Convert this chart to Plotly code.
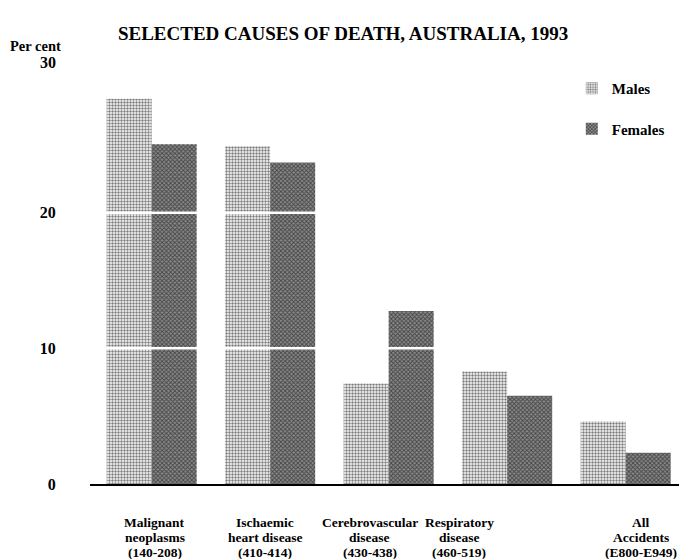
import plotly.graph_objects as go

label_lines = [
    ["Malignant", "neoplasms", "(140-208)"],
    ["Ischaemic", "heart disease", "(410-414)"],
    ["Cerebrovascular", "disease", "(430-438)"],
    ["Respiratory", "disease", "(460-519)"],
    ["All", "Accidents", "(E800-E949)"],
]
categories = ["<br>".join(l) for l in label_lines]
males = [28.4, 24.9, 7.4, 8.3, 4.6]
females = [25.05, 23.7, 12.75, 6.5, 2.3]
y_ticks = [0, 10, 20]
top_tick = 30

FONT = "Liberation Serif"
label_xshift = [3, -5, -19, -48, 15]

fig = go.Figure()
fig.add_trace(go.Bar(
    x=categories, y=males, name="Males", legendgroup="m",
    marker=dict(color="white", line=dict(width=0),
                pattern=dict(shape=".", fgcolor="black", bgcolor="white", size=3, solidity=0.5)),
))
fig.add_trace(go.Bar(
    x=categories, y=females, name="Females", legendgroup="f",
    marker=dict(color="#555", line=dict(width=0),
                pattern=dict(shape="x", fgcolor="black", bgcolor="#8a8a8a", size=3, solidity=0.5)),
))

for v in y_ticks[1:]:
    fig.add_shape(type="line", xref="paper", yref="y", x0=0, x1=1, y0=v, y1=v,
                  line=dict(color="white", width=2.5), layer="above")

for cat, lines, dx in zip(categories, label_lines, label_xshift):
    for i, line in enumerate(lines):
        fig.add_annotation(text=line, x=cat, xref="x", y=0, yref="paper", yanchor="middle",
                           yshift=-38 - 15 * i, xshift=dx, showarrow=False, borderpad=0,
                           font=dict(family=FONT, size=13.5, color="black", weight="bold"))

fig.add_annotation(text="Per cent", xref="paper", yref="y", x=-0.139, y=top_tick, yshift=31,
                   showarrow=False, xanchor="left", yanchor="middle",
                   font=dict(family=FONT, size=14.5, color="black", weight="bold"))
fig.add_annotation(text=str(top_tick), xref="paper", yref="y", x=-0.054, y=top_tick, yshift=15,
                   showarrow=False, xanchor="right", yanchor="middle",
                   font=dict(family=FONT, size=16, color="black", weight="bold"))

fig.update_layout(
    width=688, height=559,
    margin=dict(l=82.4, r=16.6, t=69, b=83, autoexpand=False),
    paper_bgcolor="white", plot_bgcolor="white",
    barmode="group", bargap=0.24, bargroupgap=0,
    title=dict(text="SELECTED CAUSES OF DEATH, AUSTRALIA, 1993", x=0.487, xanchor="center",
               xref="container", y=0.955, yanchor="middle", yref="container",
               font=dict(family=FONT, size=19, color="black", weight="bold")),
    font=dict(family=FONT, color="black", size=15),
    legend=dict(x=0.818, y=1.012, xanchor="left", yanchor="top", tracegroupgap=18,
                bgcolor="rgba(0,0,0,0)",
                font=dict(family=FONT, size=15, color="black", weight="bold")),
    xaxis=dict(range=[-0.52, 4.45], showline=True, linecolor="black", linewidth=2,
               ticks="", showgrid=False, showticklabels=False),
    yaxis=dict(range=[0, 30], tickvals=y_ticks, ticktext=[str(t) for t in y_ticks],
               showgrid=False, zeroline=False, showline=False,
               ticks="outside", ticklen=30, tickcolor="rgba(0,0,0,0)",
               tickfont=dict(family=FONT, size=16, weight="bold")),
)

fig.write_html("out.html")
